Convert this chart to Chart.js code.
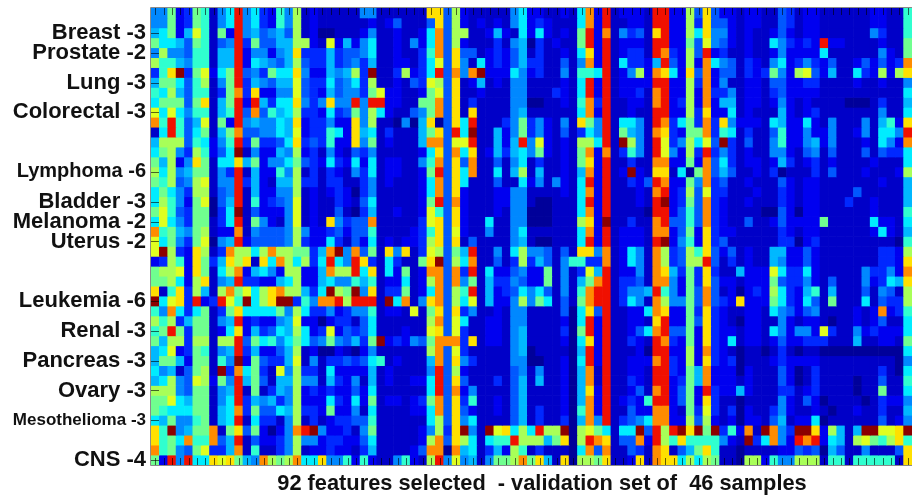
<!DOCTYPE html>
<html>
<head>
<meta charset="utf-8">
<script src="https://cdn.jsdelivr.net/npm/chart.js@4/dist/chart.umd.min.js"></script>
<style>
html, body { margin: 0; padding: 0; background: #fff; overflow: hidden; }
#mycanvas { display: block; filter: blur(0.5px); }
</style>
</head>
<body>
<canvas id="mycanvas" width="912" height="499"></canvas>
<script>
// one hex digit per cell = expression level 0..15, one string per sample (46)
var featuresA = [
"5592398157e573285a1211","5592398157e573285a1211","67926b8192e564564a1200","9776498145e394466aa21b",
"5a55488166e255256c3336","a886588166e276546a4336","38cf39b279e453977c5226","699748a159e365466b4337",
"87a6488139d3c2255b4326","799949c169e2e6377c535c","b7b7588168e4d4867a3327","d8e846b192e565576c2335",
"17e8479169d445576b2338","6aaa487258e393347c3438","79a53a8247f152265a2315","96a25c9177c69255794327",
"a7a5699153e162285a1313","98a45ab155e362166a3313","79753aa145e162255a1212","7a8529b046e182345b1211",
"9b84399037f142225b1211","7b75399137e195215b121c","d89659a122d154445a5223","b79539b056e244445a3227",
"bfa32ca13daa7adaa9936d","23a82c936cac1c7da7a37e","9aab2c917ad26752aa226d","99a72ac156e332267a2267",
"c18c3a61ad9b7acdaa637f","f7bc3e23eb8f7acff385dd","85d7379139c777795a7335","a8a3699156e232256b2202",
"89e9399127c263476a723b","96aa3aa1aae49785797459","67b2398156e362246a1200","6996299185f294336b1513",
"756149a1f3d7931b5a3317","67a54ba295e694166a5516","aaa5499156e191365a2323","99b7699157e365635a2227",
"9877799167d394476a3329","7695589167e173315a1312","c8f5699d19c492025def52","c897d88d46e142235a5523",
"d89549b336d181135a1223","92e5e77cbc965da9ad77c5"
];
var featuresB = [
"11155111111cc4a21111157","111121241114c4a21212157","111251121127d4aa1126217","262571121527d4a21113156",
"344571121138d4c44123246","345361122137b4c51723246","56a3f113a237e4d5df22275","4573a112143ba4c12612155",
"45539b221129b4c11211155","55e5ee221199d4c13111155","3495a7211459d4c1c111156","22c5a110506c04c7e111359",
"72c671311169c4e7f116259","22c59121116dd4bbe11626e","214351111127c4d7c126367","327271221158d4c4d114157",
"215371221129e4c7d11716a","311351211127d4c71114117","320351111127d4c21112255","321471111129e4d21112255",
"41036112112b84c21112155","5344d111113bc4c21171155","424481111238c4b21151157","31427121223ac4c14111156",
"f5d491c5c13ba496e11517a","75ec3173119cf4a7d11413a","aae7c172912dd4d3e172245","55868122712ad4d59163354",
"a9f5c1339127d4a8e162347","eaeee1f7d15cd4a7b16225a","235581221b19c4c35112155","33147111111ad4b71122155",
"24347111211bc4b31122156","54639f232549ddd3c122156","21025111111ad4b31111156","343478121116d4c53111155",
"222261211115e4a21111145","325161211227e4c41113146","224271111117e4d25111146","327291221239d4c38112146",
"225171111227d4c42112146","334481111117a4c57111146","231591111125a3cf51fbc7a","32247111112ad4ca71788ea",
"22136111124dd0d671362a8","58282115821ae5b561599ad"
];
var featuresC = [
"2211217d2e12221ee22a4c4","2321117d2e11221ee22a3c4","2721219e2d15341ce22a7c5","0312119e2e12221ee2294b5",
"1311217c2e12331ed32a4e2","3311415d2e173326e42a2d7","231151887e125a2dc72c4d2","1111217e2e12222ee22a3d2",
"1113217e2e12231de22a2d3","0011218d3e11221de23a2d2","1111117d2e11211ee22a3c2","352151c95e17751ed3793d3",
"352141375e19651dc3299d3","5b2121aa7e1fa51eb35a7b4","5921219d2d13851eb52a3e3","1311219c2e11311dd2292d4",
"1611216d2e12f21cc1709d4","2515217e2e11324ed2295d3","1111217d2e11121de23a4b3","1001117e2e11121ef2394d3",
"0001117d2e11110ee2484d3","000111ac2f11311de4484d3","1111117d2e12221dd2492c3","1001117e2e12221ef2582c3",
"554141cc5d12751da34a8c4","364158833d12751da34aae4","2291513b6e12251dc6393c3","22915169de13341dd5293c4",
"5741518dee13556e85294d4","5971419dee13751da5594d4","1111407c4e11227dc2293c3","1111207e2e11221ce2294c3",
"1111309e2e11247de4492c3","1111207c2e11321ed3292c3","0111106e2e11120ee22a2d3","0011207e2e11222de32a2c3",
"1511206d1e11221ee3296d2","1611206d1e11321ee2396d2","1111206c2e11241de2492e3","1111206d2e12328ee2492c3",
"1311208d2e11422dd2193b3","1311306d5e13457dd22a4a2","7eaaf0ab97177f4eaefcf9f","aa69c0aedc144d2ea8c8888",
"1311107d4d11431dc1469c8","9c61c0aa9c112c1dcc7a7a9"
];
var featuresD = [
"22122114312211111122118","42122114312211111122118","52121124212211111153118","421211753232e2211112119",
"31121125222271111115219","5413215723532411242423d","441323952ab42611732a2ac","51122144223311112112115",
"35122134222211111111117","66122125212111100013116","27121116212311111115117","c522217622721511151682c",
"8713114822522511251775e","f314115822562511121752d","53121155214514111414337","73122126312312111121117",
"6411213011131411121112a","41121114212211111112116","31112113212211114111116","21121113212211131121116",
"21111004202211111121118","21141124222291111172217","22111113212211111127216","41111113302311111111108",
"2412116622421111111332a","1312116522421111111332c","116222b733721111153352d","2212229433521411152376c",
"120232a732681611141541a","32c2229732741911171433a","2112217542451111212d238","21022115212210112124117",
"221221752552b3115232227","27122124223331116112219","21011013101100000000007","23011123222211111111105",
"22021114201311111113107","22121114201311110114118","22621113312311110119117","11011115214201111013225",
"13021135211210112113116","12022146122701111114125","382d1fd53ffc2a616ffbbcf","521f37d52ede2761ab98ac8",
"1101111224340641151114c","110aa2855aaa1881888881c"
];

// group labels and the sample row each one sits on
var sampleLabels = ["Breast -3","Prostate -2","Lung -3","Colorectal -3","Lymphoma -6","Bladder -3","Melanoma -2","Uterus -2","Leukemia -6","Renal -3","Pancreas -3","Ovary -3","Mesothelioma -3","CNS -4"];
var labelRows = [2.5,4.5,7.5,10.5,16.5,19.5,21.5,23.5,29.5,32.5,35.5,38.5,41.5,45.5];
var xTitle = "92 features selected  - validation set of  46 samples";

var jetColors = ["#00009a","#0000c8","#0000f0","#0028ff","#0058ff","#0088ff","#00b8ff","#00ecff",
                 "#30ffcf","#70ff8f","#a8ff58","#e0ff20","#ffe000","#ff8c00","#f01000","#8c0000"];

var sampleRows = [];
for(var r = 0; r < featuresA.length; r++){
    var s = featuresA[r] + featuresB[r] + featuresC[r] + featuresD[r];
    sampleRows.push(s.split("").map(function(c){ return parseInt(c, 16); }));
}

var features = [];
for(var k = 0; k < sampleRows[0].length; k++){
    features.push(k + 1);
}

// every sample is one stacked layer of unit bars, colour comes from the level
var datasets = sampleRows.map(function(row, i){
    return {
        label: "sample " + (i + 1),
        data: features.map(function(){ return 1; }),
        backgroundColor: features.map(function(f, j){ return jetColors[row[j]]; }),
        borderWidth: 0,
        barPercentage: 1,
        categoryPercentage: 1
    };
});

var frameAndTicks = {
    id: "frameAndTicks",
    afterDatasetsDraw: function(chart){
        var ctx = chart.ctx;
        var a = chart.chartArea;
        var xs = chart.scales.x;
        var ys = chart.scales.y;
        ctx.save();
        ctx.strokeStyle = "rgba(0,0,0,0.6)";
        ctx.lineWidth = 1;
        ctx.beginPath();
        features.forEach(function(f, i){
            var px = Math.round(xs.getPixelForValue(i)) + 0.5;
            ctx.moveTo(px, a.top);
            ctx.lineTo(px, a.top + 7);
            ctx.moveTo(px, a.bottom - 7);
            ctx.lineTo(px, a.bottom);
        });
        labelRows.forEach(function(v){
            var py = Math.round(ys.getPixelForValue(v)) + 0.5;
            ctx.moveTo(a.left, py);
            ctx.lineTo(a.left + 8, py);
        });
        ctx.stroke();
        ctx.strokeStyle = "#8a8a8a";
        ctx.beginPath();
        ctx.moveTo(a.left - 0.5, a.bottom + 0.5);
        ctx.lineTo(a.left - 0.5, a.top - 0.5);
        ctx.lineTo(a.right, a.top - 0.5);
        ctx.moveTo(a.left - 0.5, a.bottom + 0.5);
        ctx.lineTo(a.right, a.bottom + 0.5);
        ctx.stroke();
        // caption sits a bit right of the plot centre in the original
        ctx.fillStyle = "#111";
        ctx.font = "bold 21.8px 'Liberation Sans'";
        ctx.textAlign = "center";
        ctx.textBaseline = "middle";
        ctx.fillText(xTitle, 542, 484);
        ctx.restore();
    }
};

var ctx = document.getElementById("mycanvas");

var heatmap = new Chart(ctx, {
    type: "bar",
    data: { labels: features, datasets: datasets },
    plugins: [frameAndTicks],
    options: {
        responsive: false,
        animation: false,
        layout: { autoPadding: false, padding: { top: 8, right: 0, left: 0, bottom: 0 } },
        plugins: { legend: { display: false }, tooltip: { enabled: false }, title: { display: false } },
        scales: {
            x: {
                stacked: true,
                grid: { display: false },
                border: { display: false },
                ticks: { display: false },
                afterFit: function(scale){ scale.height = 34; }
            },
            y: {
                stacked: true,
                reverse: true,
                min: 0,
                max: 46,
                grid: { display: false, drawTicks: false },
                border: { display: false },
                afterFit: function(scale){
                    scale.width = 151;
                    scale.paddingTop = 0;
                    scale.paddingBottom = 0;
                },
                afterBuildTicks: function(scale){
                    scale.ticks = labelRows.map(function(v){ return { value: v }; });
                },
                ticks: {
                    autoSkip: false,
                    padding: 5,
                    color: "#111",
                    font: function(c){
                        var size = 22;
                        if(c.index === 12) size = 17;
                        if(c.index === 4) size = 20;
                        return { family: "Liberation Sans", weight: "bold", size: size };
                    },
                    callback: function(value, index){ return sampleLabels[index]; }
                }
            }
        }
    }
});
</script>
</body>
</html>
